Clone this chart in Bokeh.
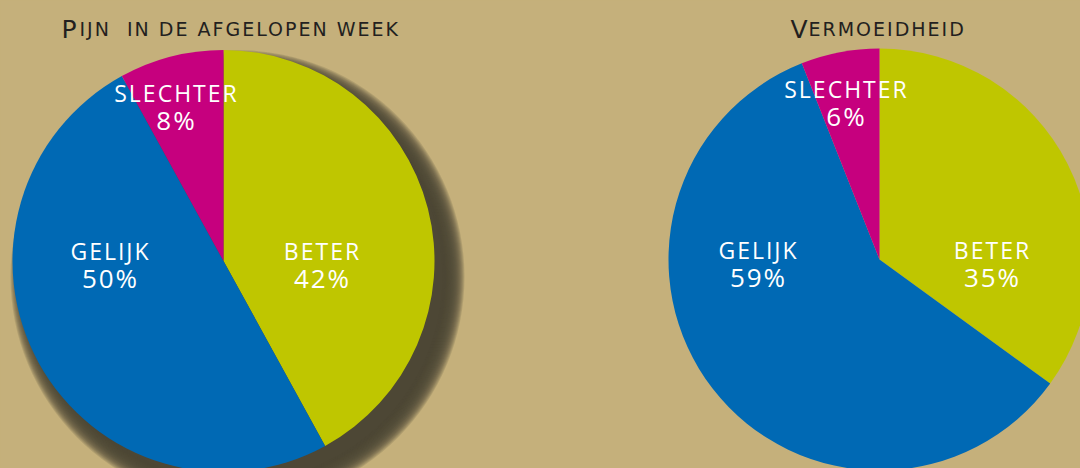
import numpy as np
from bokeh.plotting import figure
from bokeh.models import Range1d, ColumnDataSource
from bokeh.core.properties import value
from bokeh.embed import file_html
from bokeh.resources import INLINE

# ---- data ----
categories = ["BETER", "GELIJK", "SLECHTER"]
pain_values = [42, 50, 8]
fatigue_values = [35, 59, 6]
titles_left = ("P", "IJN\u00a0 IN DE AFGELOPEN WEEK")
titles_right = ("V", "ERMOEIDHEID")

# ---- style ----
BG = "#C5B07B"
COLORS = {"BETER": "#BFC600", "GELIJK": "#0069B4", "SLECHTER": "#C6007E"}
SHADOW = "#4B4536"
TITLE_COLOR = "#231F20"
W, H = 1080, 468
DY = -10        # vertical text correction
TRACK = 2       # letter spacing in px (CSS)

p = figure(width=W, height=H, x_range=Range1d(0, W), y_range=Range1d(0, H),
           output_backend="svg", toolbar_location=None, min_border=0)
p.axis.visible = False
p.grid.visible = False
p.outline_line_color = None
p.background_fill_color = BG
p.border_fill_color = BG


def Y(y):
    return H - y


R = 211
pies = [
    dict(cx=223, cy=260.5, values=pain_values, shadow=True,
         label_off={"BETER": (99, 0), "GELIJK": (-113, 0), "SLECHTER": (-47, -158)}),
    dict(cx=879, cy=259, values=fatigue_values, shadow=False,
         label_off={"BETER": (113, 0), "GELIJK": (-121, 0), "SLECHTER": (-33, -161)}),
]

for pie in pies:
    cx, cy = pie["cx"], pie["cy"]
    if pie["shadow"]:
        # soft drop shadow from stacked translucent discs
        sx, sy = cx + 14, cy + 16
        radii = np.linspace(R + 16, R - 6, 24)
        p.circle(x=[sx] * len(radii), y=[Y(sy)] * len(radii), radius=radii,
                 fill_color=SHADOW, fill_alpha=0.17, line_color=None)
    vals = np.array(pie["values"], dtype=float)
    frac = vals / vals.sum()
    cum = np.concatenate([[0], np.cumsum(frac)])
    start = np.pi / 2 - 2 * np.pi * cum[:-1]
    end = np.pi / 2 - 2 * np.pi * cum[1:]
    src = ColumnDataSource(dict(start=start, end=end,
                                color=[COLORS[c] for c in categories]))
    p.wedge(x=cx, y=Y(cy), radius=R, start_angle="start", end_angle="end",
            direction="clock", fill_color="color", line_color=None, source=src)
    pct = [f"{int(v)}%" for v in pie["values"]]
    lx_name = [cx + pie["label_off"][c][0] - len(c) * TRACK / 2 for c in categories]
    lx_pct = [cx + pie["label_off"][c][0] - len(t) * TRACK / 2
              for c, t in zip(categories, pct)]
    ly_name = [Y(cy + pie["label_off"][c][1] + DY) for c in categories]
    ly_pct = [Y(cy + pie["label_off"][c][1] + 27 + DY) for c in categories]
    p.text(x=lx_name, y=ly_name, text=categories, text_color="white",
           text_font=value("Open Sans"), text_font_size="23px",
           text_align="center", text_baseline="alphabetic")
    p.text(x=lx_pct, y=ly_pct, text=pct,
           text_color="white", text_font=value("Open Sans"),
           text_font_size="26px", text_align="center", text_baseline="alphabetic")

# titles in small caps style
for (big, small), x0, x1 in [(titles_left, 61, 79), (titles_right, 790, 808)]:
    p.text(x=[x0], y=[Y(38.5 + DY)], text=[big], text_color=TITLE_COLOR,
           text_font=value("DejaVu Sans"), text_font_size="25px",
           text_align="left", text_baseline="alphabetic")
    p.text(x=[x1], y=[Y(38.5 + DY)], text=[small], text_color=TITLE_COLOR,
           text_font=value("DejaVu Sans"), text_font_size="19px",
           text_align="left", text_baseline="alphabetic")

html = file_html(p, INLINE)
css = ("<style>html,body{margin:0;padding:0;background:%s;"
       "letter-spacing:%dpx;overflow:hidden}</style>" % (BG, TRACK))
html = html.replace("</head>", css + "</head>", 1)
open("out.html", "w").write(html)
